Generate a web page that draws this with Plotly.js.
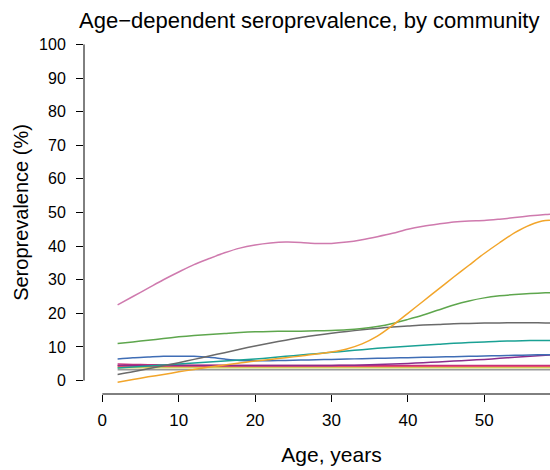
<!DOCTYPE html>
<html>
<head>
<meta charset="utf-8">
<script src="https://cdn.plot.ly/plotly-3.0.1.min.js"></script>
<style>
html, body { margin: 0; padding: 0; overflow: hidden; background: #fff; }
#chart { width: 600px; height: 470px; }
</style>
</head>
<body>
<div id="chart"></div>
<script>
// Age (years) at which each community curve is sampled
const ages = [2,4,6,8,10,12,14,16,18,20,22,24,26,28,30,32,34,36,38,40,42,44,46,48,50,52,54,56,58,60];

// Seroprevalence (%) by community
const pinkSeries    = [22.5,25,27.5,30,32.3,34.5,36.3,38,39.4,40.3,40.9,41.2,41.1,40.8,40.8,41.2,41.9,42.8,43.8,45,45.9,46.6,47.2,47.5,47.6,48,48.5,49,49.4,49.7];
const orangeSeries  = [-0.5,0.3,1.1,1.8,2.6,3.3,4.0,4.6,5.2,5.8,6.3,6.8,7.3,7.9,8.5,9.4,10.9,13.2,16.4,20.0,23.6,27.2,30.8,34.3,37.8,41,44,46.3,47.6,47.5];
const greenSeries   = [11,11.5,12,12.5,13,13.4,13.7,14,14.3,14.5,14.6,14.7,14.7,14.8,14.9,15.1,15.5,16.1,17,18.2,19.5,21,22.5,23.7,24.6,25.2,25.6,25.9,26.1,26.3];
const darkGreySeries= [1.8,2.6,3.5,4.4,5.3,6.3,7.3,8.3,9.3,10.3,11.2,12,12.8,13.5,14.1,14.6,15.1,15.5,15.9,16.2,16.5,16.7,16.9,17,17.1,17.15,17.2,17.2,17.15,17.1];
const tealSeries    = [3.7,4.0,4.3,4.6,4.9,5.2,5.5,5.8,6.1,6.4,6.8,7.2,7.6,8.0,8.4,8.8,9.2,9.6,9.9,10.2,10.5,10.8,11.1,11.3,11.5,11.7,11.8,11.9,11.9,11.9];
const blueSeries    = [6.4,6.8,7.0,7.2,7.25,7.2,6.9,6.4,6.0,5.9,5.9,6.0,6.1,6.2,6.3,6.4,6.5,6.6,6.7,6.8,6.9,7.0,7.1,7.2,7.3,7.4,7.5,7.6,7.7,7.7];
const purpleSeries  = [4.5,4.5,4.5,4.5,4.5,4.5,4.5,4.5,4.5,4.5,4.5,4.5,4.5,4.5,4.5,4.55,4.6,4.75,4.9,5.1,5.3,5.55,5.8,6.05,6.3,6.6,6.9,7.2,7.5,7.8];
const magentaSeries = [4.9,4.8,4.7,4.65,4.6,4.55,4.55,4.5,4.5,4.5,4.5,4.5,4.5,4.5,4.5,4.5,4.5,4.5,4.5,4.5,4.5,4.5,4.5,4.5,4.5,4.5,4.5,4.5,4.5,4.5];
const redSeries     = [4.3,4.3,4.3,4.3,4.3,4.3,4.3,4.3,4.3,4.3,4.3,4.3,4.3,4.3,4.3,4.3,4.3,4.3,4.3,4.3,4.3,4.3,4.3,4.3,4.3,4.3,4.3,4.3,4.3,4.3];
const yellowSeries  = [3.8,3.8,3.8,3.8,3.8,3.8,3.8,3.8,3.8,3.8,3.8,3.8,3.8,3.8,3.8,3.8,3.8,3.8,3.8,3.8,3.8,3.8,3.8,3.8,3.8,3.8,3.8,3.8,3.8,3.8];
const greySeries    = [3.2,3.2,3.2,3.2,3.2,3.2,3.2,3.2,3.2,3.2,3.2,3.2,3.2,3.2,3.2,3.2,3.2,3.2,3.2,3.2,3.2,3.2,3.2,3.2,3.2,3.2,3.2,3.2,3.2,3.2];

const xTicks = [0,10,20,30,40,50,60];
const yTicks = [0,10,20,30,40,50,60,70,80,90,100];

const series = [
  {y: greySeries,     color: '#999999'},
  {y: yellowSeries,   color: '#CFCB5E'},
  {y: redSeries,      color: '#EE2A2A'},
  {y: magentaSeries,  color: '#C8307A'},
  {y: purpleSeries,   color: '#8A2D8C'},
  {y: blueSeries,     color: '#3F6DB5'},
  {y: tealSeries,     color: '#1AA194'},
  {y: darkGreySeries, color: '#6A6A6A'},
  {y: greenSeries,    color: '#5EA64D'},
  {y: orangeSeries,   color: '#F2A52A'},
  {y: pinkSeries,     color: '#CF7AAE'}
];

const traces = series.map(s => ({
  x: ages, y: s.y, type: 'scatter', mode: 'lines',
  line: {color: s.color, width: 1.5, shape: 'spline', smoothing: 0.8},
  hoverinfo: 'skip', showlegend: false
}));

const font = {family: '"Liberation Sans", Arial, Helvetica, sans-serif', color: '#000'};

const layout = {
  width: 600, height: 470,
  margin: {l: 83.5, r: 20.5, t: 30.5, b: 75.5, pad: 0},
  paper_bgcolor: '#fff', plot_bgcolor: '#fff',
  showlegend: false,
  font: Object.assign({size: 16}, font),
  title: {
    text: 'Age\u2212dependent seroprevalence, by community',
    font: Object.assign({size: 22}, font),
    xref: 'container', x: 79/600, xanchor: 'left',
    yref: 'container', y: 1 - 20/470, yanchor: 'middle'
  },
  xaxis: {
    range: [-2.4, 62.4], tickmode: 'array', tickvals: xTicks,
    ticktext: xTicks.map(String),
    ticks: 'outside', ticklen: 7, tickwidth: 1, tickcolor: '#000',
    ticklabelstandoff: 4,
    showline: false, showgrid: false, zeroline: false,
    tickfont: Object.assign({size: 17}, font),
    title: {text: 'Age, years', font: Object.assign({size: 21}, font), standoff: 17}
  },
  yaxis: {
    range: [-4, 104], tickmode: 'array', tickvals: yTicks,
    ticktext: yTicks.map(String),
    ticks: 'outside', ticklen: 7, tickwidth: 1, tickcolor: '#000',
    ticklabelstandoff: 7,
    showline: false, showgrid: false, zeroline: false,
    tickfont: Object.assign({size: 16}, font),
    title: {text: 'Seroprevalence (%)', font: Object.assign({size: 20}, font), standoff: 5}
  },
  shapes: [
    {type: 'line', xref: 'x', yref: 'paper', x0: xTicks[0], x1: xTicks[xTicks.length-1], y0: 0, y1: 0,
     line: {color: '#000', width: 1}},
    {type: 'line', xref: 'paper', yref: 'y', x0: 0, x1: 0, y0: yTicks[0], y1: yTicks[yTicks.length-1],
     line: {color: '#000', width: 1}}
  ]
};

Plotly.newPlot('chart', traces, layout, {staticPlot: true, displayModeBar: false});
</script>
</body>
</html>
